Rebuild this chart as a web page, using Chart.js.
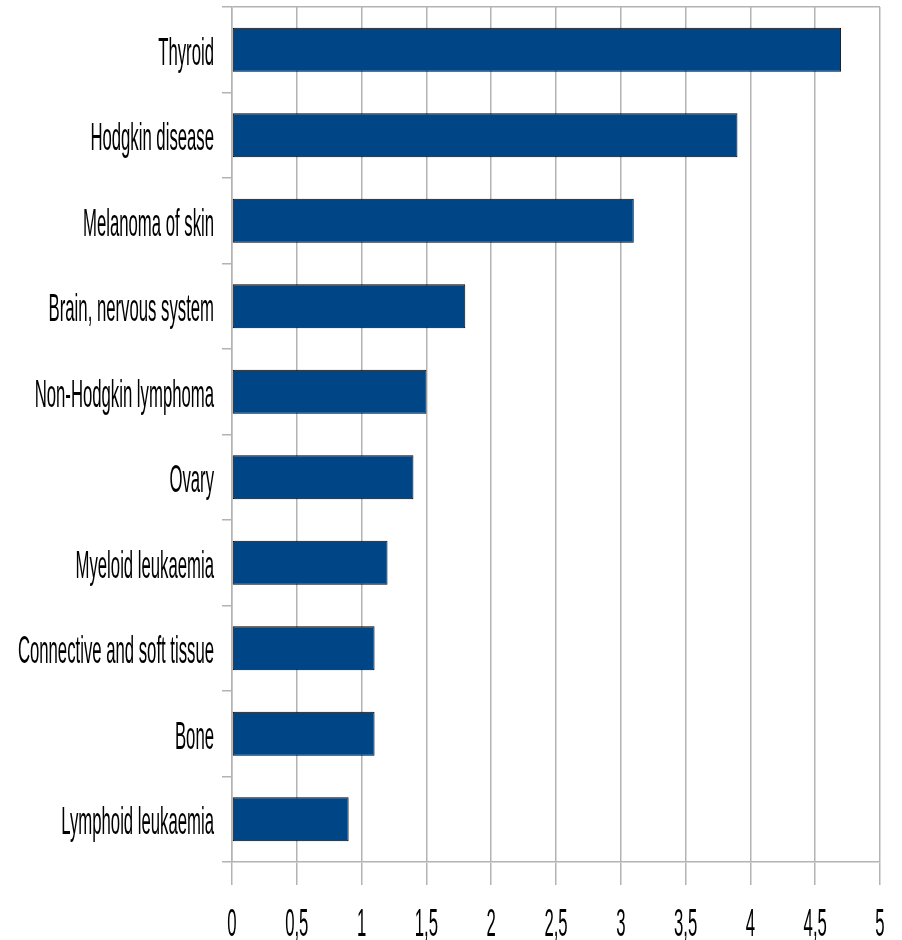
<!DOCTYPE html>
<html>
<head>
<meta charset="utf-8">
<script src="https://cdn.jsdelivr.net/npm/chart.js@4/dist/chart.umd.min.js"></script>
<style>
html,body{margin:0;padding:0;background:#fff;}
#wrap{width:902px;height:940px;}
</style>
</head>
<body>
<div id="wrap"><canvas id="c" width="902" height="940"></canvas></div>
<script>
const categories = ["Thyroid","Hodgkin disease","Melanoma of skin","Brain, nervous system","Non-Hodgkin lymphoma","Ovary","Myeloid leukaemia","Connective and soft tissue","Bone","Lymphoid leukaemia"];
const values = [4.7, 3.9, 3.1, 1.8, 1.5, 1.4, 1.2, 1.1, 1.1, 0.9];
const xTickValues = [0,0.5,1,1.5,2,2.5,3,3.5,4,4.5,5];
const xTickLabels = ["0","0,5","1","1,5","2","2,5","3","3,5","4","4,5","5"];

const GRID = '#b3b3b3';
const LABEL_FONT = '38px "Liberation Sans", Arial, sans-serif';
const SQUEEZE = 0.44;

const narrowLabels = {
  id: 'narrowLabels',
  afterDraw(chart) {
    const ctx = chart.ctx;
    const ys = chart.scales.y, xs = chart.scales.x;
    ctx.save();
    ctx.fillStyle = '#000';
    ctx.font = LABEL_FONT;
    ctx.textAlign = 'right';
    ctx.textBaseline = 'alphabetic';
    categories.forEach((lab, i) => {
      const py = ys.getPixelForTick(i);
      ctx.save();
      ctx.translate(ys.right - 18, py + 15);
      ctx.scale(SQUEEZE, 1);
      ctx.fillText(lab, 0, 0);
      ctx.restore();
    });
    ctx.textAlign = 'center';
    xTickValues.forEach((v, i) => {
      const px = xs.getPixelForValue(v);
      ctx.save();
      ctx.translate(px, xs.top + 74);
      ctx.scale(SQUEEZE, 1);
      ctx.fillText(xTickLabels[i], 0, 0);
      ctx.restore();
    });
    ctx.restore();
  }
};

new Chart(document.getElementById('c'), {
  type: 'bar',
  data: {
    labels: categories,
    datasets: [{
      data: values,
      backgroundColor: '#004586',
      borderColor: '#000000',
      borderWidth: 1,
      borderSkipped: false,
      categoryPercentage: 1,
      barPercentage: 0.515
    }]
  },
  options: {
    indexAxis: 'y',
    responsive: false,
    animation: false,
    devicePixelRatio: 1,
    layout: { padding: { top: 7, right: 22, left: 0, bottom: 0 } },
    plugins: { legend: { display: false }, tooltip: { enabled: false } },
    scales: {
      x: {
        type: 'linear',
        min: 0, max: 5,
        afterBuildTicks(scale) { scale.ticks = xTickValues.map(v => ({ value: v })); },
        ticks: { stepSize: 0.5, color: 'rgba(0,0,0,0)', font: { size: 1 }, autoSkip: false, maxRotation: 0, padding: 0 },
        grid: { color: GRID, lineWidth: 1.5, tickLength: 23, drawTicks: true, tickColor: GRID },
        border: { display: true, color: GRID, width: 1.5 },
        afterFit(scale) { scale.height = 78; }
      },
      y: {
        type: 'category',
        offset: true,
        ticks: { color: 'rgba(0,0,0,0)', font: { size: 1 }, autoSkip: false, padding: 0 },
        grid: {
          offset: true,
          drawOnChartArea: true,
          drawTicks: true,
          tickLength: 10,
          lineWidth: 1.5,
          color: (c) => c.index === 0 ? GRID : 'rgba(0,0,0,0)',
          tickColor: GRID
        },
        border: { display: true, color: GRID, width: 1.5 },
        afterFit(scale) { scale.width = 232; }
      }
    }
  },
  plugins: [narrowLabels]
});
</script>
</body>
</html>
